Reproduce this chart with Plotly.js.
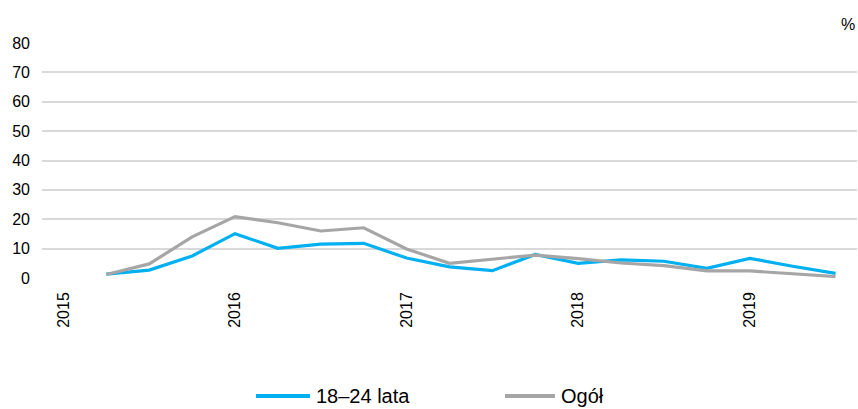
<!DOCTYPE html>
<html>
<head>
<meta charset="utf-8">
<script src="https://cdn.plot.ly/plotly-3.0.1.min.js"></script>
<style>
html,body{margin:0;padding:0;background:#fff;}
#chart{width:858px;height:409px;}
</style>
</head>
<body>
<div id="chart"></div>
<script>
// Quarterly positions 2015 Q1 … 2019 Q3
var quarters = ["2015 Q1","2015 Q2","2015 Q3","2015 Q4","2016 Q1","2016 Q2","2016 Q3","2016 Q4",
  "2017 Q1","2017 Q2","2017 Q3","2017 Q4","2018 Q1","2018 Q2","2018 Q3","2018 Q4",
  "2019 Q1","2019 Q2","2019 Q3"];
var yearTicks = ["2015","2016","2017","2018","2019"];
var seriesNames = ["18–24 lata","Ogół"];
var youth = [null,1.3,2.7,7.5,15.1,10.1,11.5,11.8,6.8,3.8,2.5,8.0,5.0,6.2,5.7,3.3,6.7,4.0,1.6];
var total = [null,1.2,4.8,14.0,20.9,18.8,16.0,17.1,9.9,5.0,6.4,7.8,6.6,5.1,4.2,2.4,2.4,1.4,0.5];
var yTicks = [0,10,20,30,40,50,60,70,80];
var unitLabel = "%";

var idx = quarters.map(function(q,i){return i;});
var tickPos = yearTicks.map(function(y){return quarters.indexOf(y+" Q1");});
var colors = ["#00B0F0","#A6A6A6"];
var font = "Arial, 'Liberation Sans', sans-serif";

var traces = [
  {x: idx, y: youth, name: seriesNames[0], type: "scatter", mode: "lines",
   line: {color: colors[0], width: 3.2}, text: quarters, hoverinfo: "text+y"},
  {x: idx, y: total, name: seriesNames[1], type: "scatter", mode: "lines",
   line: {color: colors[1], width: 3.2}, text: quarters, hoverinfo: "text+y"}
];

// custom legend in paper coordinates
var L = 42, W = 815, T = 43, H = 235;
function px(x){return (x - L)/W;}
function py(y){return (T + H - y)/H;}
var legendLines = [[256,310],[505,555]];
var shapes = [], annotations = [];
legendLines.forEach(function(p,i){
  shapes.push({type:"line", xref:"paper", yref:"paper", x0:px(p[0]), x1:px(p[1]), y0:py(396), y1:py(396),
    line:{color:colors[i], width:4}});
  annotations.push({xref:"paper", yref:"paper", x:px(p[1]+4), y:py(396), xanchor:"left", yanchor:"middle",
    text: seriesNames[i], showarrow:false, font:{family:font, size:20, color:"#000"}});
});
annotations.push({xref:"paper", yref:"paper", x:1, y:py(24), xanchor:"right", yanchor:"middle",
  text: unitLabel, showarrow:false, font:{family:font, size:16, color:"#000"}});

var layout = {
  width: 858, height: 409,
  margin: {l: L, r: 858 - L - W, t: T, b: 409 - T - H, pad: 0},
  paper_bgcolor: "#fff", plot_bgcolor: "#fff",
  showlegend: false,
  font: {family: font, size: 16, color: "#000"},
  xaxis: {range: [-0.5, 18.5], tickvals: tickPos, ticktext: yearTicks, tickangle: -90,
    showgrid: false, zeroline: false, showline: false, ticks: "", ticklabelstandoff: 10,
    tickfont: {family: font, size: 16, color: "#000"}, fixedrange: true},
  yaxis: {range: [0, 80], tickvals: yTicks, showgrid: true, gridcolor: "#D9D9D9", gridwidth: 2,
    zeroline: false, showline: false, ticks: "", ticklabelstandoff: 11,
    tickfont: {family: font, size: 16, color: "#000"}, fixedrange: true},
  shapes: shapes,
  annotations: annotations
};

Plotly.newPlot("chart", traces, layout, {displayModeBar: false, staticPlot: true});
</script>
</body>
</html>
